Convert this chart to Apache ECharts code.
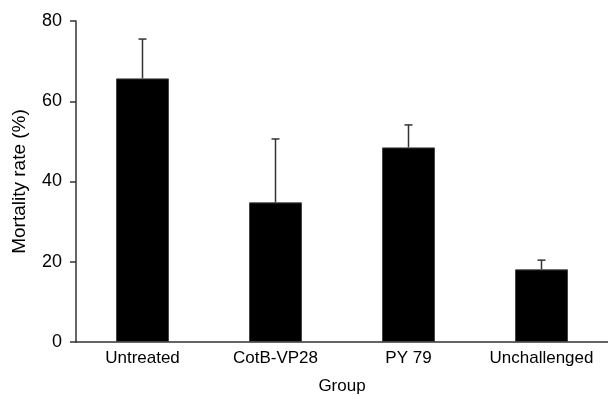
<!DOCTYPE html>
<html>
<head>
<meta charset="utf-8">
<script src="https://cdn.jsdelivr.net/npm/echarts@6/dist/echarts.min.js"></script>
<style>
  html, body { margin: 0; padding: 0; background: #fff; }
  #main { width: 608px; height: 396px; }
</style>
</head>
<body>
<div id="main"></div>
<script>
var groups = ["Untreated", "CotB-VP28", "PY 79", "Unchallenged"];
var mortality = [65.7, 34.8, 48.5, 18.1];
var errorTop = [75.5, 50.6, 54.1, 20.4];
var yTicks = [0, 20, 40, 60, 80];

var chart = echarts.init(document.getElementById("main"));

function renderError(params, api) {
  var idx = api.value(0);
  var base = api.coord([idx, api.value(1)]);
  var top = api.coord([idx, api.value(2)]);
  var cap = 4;
  var style = { stroke: "#333", lineWidth: 1.5 };
  return {
    type: "group",
    children: [
      { type: "line", shape: { x1: base[0], y1: base[1], x2: top[0], y2: top[1] }, style: style },
      { type: "line", shape: { x1: top[0] - cap, y1: top[1], x2: top[0] + cap, y2: top[1] }, style: style }
    ]
  };
}

var option = {
  animation: false,
  textStyle: { fontFamily: "Liberation Sans, Arial, sans-serif" },
  grid: {
    left: 76,
    right: 0,
    top: 21,
    bottom: 54,
    containLabel: false,
    outerBoundsMode: "none"
  },
  xAxis: {
    type: "category",
    data: groups,
    name: "Group",
    nameLocation: "middle",
    nameGap: 36,
    nameTextStyle: { color: "#000", fontSize: 17 },
    axisLine: { lineStyle: { color: "#333", width: 1.5 } },
    axisTick: { show: false },
    axisLabel: { color: "#000", fontSize: 17, margin: 8, interval: 0 }
  },
  yAxis: {
    type: "value",
    min: yTicks[0],
    max: yTicks[yTicks.length - 1],
    interval: 20,
    name: "Mortality rate (%)",
    nameLocation: "middle",
    nameGap: 47,
    nameTextStyle: { color: "#000", fontSize: 19 },
    axisLine: { show: true, lineStyle: { color: "#333", width: 1.5 } },
    axisTick: { show: true, length: 6, lineStyle: { color: "#333", width: 1.5 } },
    axisLabel: { color: "#000", fontSize: 18, margin: 14 },
    splitLine: { show: false }
  },
  series: [
    {
      type: "bar",
      data: mortality,
      barWidth: 53,
      itemStyle: { color: "#000", borderColor: "#444", borderWidth: 1 },
      z: 2
    },
    {
      type: "custom",
      renderItem: renderError,
      data: groups.map(function (g, i) { return [i, mortality[i], errorTop[i]]; }),
      z: 3
    }
  ]
};

chart.setOption(option);
</script>
</body>
</html>
